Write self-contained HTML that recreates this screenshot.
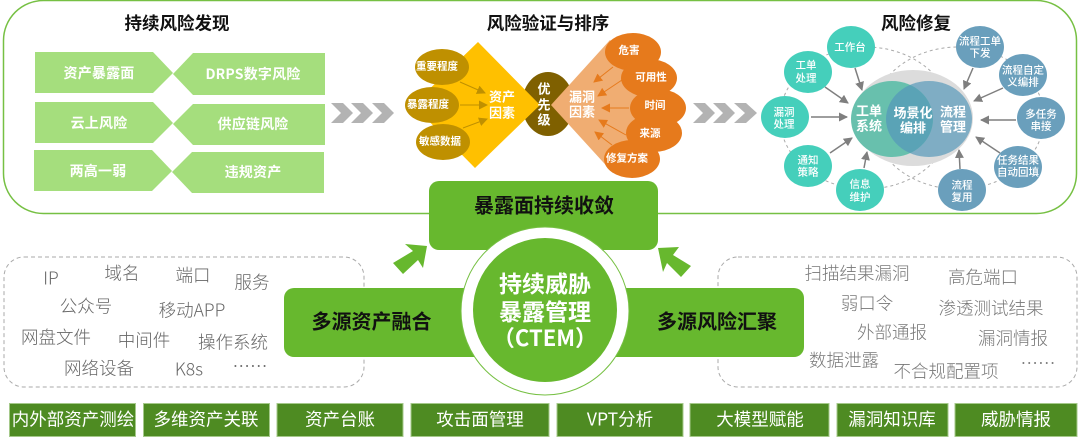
<!DOCTYPE html>
<html><head><meta charset="utf-8"><style>
html,body{margin:0;padding:0;background:#fff;width:1080px;height:441px;overflow:hidden}
svg{display:block}
text{font-family:"Liberation Sans","Noto Sans CJK SC",sans-serif;text-anchor:middle;dominant-baseline:central}
.cj,.cj text{font-family:"Noto Sans CJK SC","Liberation Sans",sans-serif}
.t{font-size:17.5px;font-weight:700;fill:#111}
.g{font-size:14px;font-weight:700;fill:#fff;letter-spacing:.2px}
.f{font-size:13px;font-weight:700;fill:#fff}
.e{font-size:10.5px;font-weight:700;fill:#fff}
.c{font-size:13px;font-weight:700;fill:#fff}
.s{font-size:10.5px;font-weight:500;fill:#fff}
.b{font-size:20px;font-weight:700;fill:#111}
.l{font-size:17.5px;font-weight:300;fill:#666}
.r{font-size:17.5px;font-weight:300;fill:#777}
.w{font-size:17.5px;font-weight:400;fill:#fff}
</style></head><body>
<svg class="cj" width="1080" height="441" viewBox="0 0 1080 441" xmlns="http://www.w3.org/2000/svg">
<defs>
<marker id="ag" markerUnits="userSpaceOnUse" markerWidth="10" markerHeight="10" refX="8" refY="4.5" orient="auto"><path d="M0 0L9 4.5L0 9Z" fill="#7f7f7f"/></marker>
<marker id="ao" markerUnits="userSpaceOnUse" markerWidth="10" markerHeight="10" refX="8" refY="4.5" orient="auto"><path d="M0 0L9 4.5L0 9Z" fill="#e67a1c"/></marker>
<marker id="ay" markerUnits="userSpaceOnUse" markerWidth="10" markerHeight="10" refX="8" refY="4.5" orient="auto"><path d="M0 0L9 4.5L0 9Z" fill="#bf9000"/></marker>
</defs>
<rect x="3.5" y="0.5" width="1073" height="213" rx="40" fill="#fff" stroke="#76c043" stroke-width="1.5"/>

<!-- left section -->
<text class="t" x="177" y="23">持续风险发现</text>
<g fill="#a5de7d">
<polygon points="35,52 153,52 173,73 153,93 35,93"/>
<polygon points="173,74 193,53 325,53 325,95 193,95"/>
<polygon points="35,102 153,102 173,123 153,143 35,143"/>
<polygon points="173,124 193,104 325,104 325,145 193,145"/>
<polygon points="34,150 152,150 172,171 152,191 34,191"/>
<polygon points="172,172 192,152 324,152 324,193 192,193"/>
</g>
<text class="g" x="99" y="73">资产暴露面</text>
<text class="g" x="253" y="74">DRPS数字风险</text>
<text class="g" x="99" y="123">云上风险</text>
<text class="g" x="253" y="124">供应链风险</text>
<text class="g" x="98" y="171">两高一弱</text>
<text class="g" x="253" y="172">违规资产</text>

<!-- chevrons -->
<g fill="#b3b3b3">
<polygon points="331,103 343,103 353,113 343,123 331,123 341,113"/>
<polygon points="351,103 363,103 373,113 363,123 351,123 361,113"/>
<polygon points="372,103 384,103 394,113 384,123 372,123 382,113"/>
<polygon points="693,103 705,103 715,113 705,123 693,123 703,113"/>
<polygon points="713,103 725,103 735,113 725,123 713,123 723,113"/>
<polygon points="734,103 746,103 757,113 746,123 734,123 745,113"/>
</g>

<!-- middle section -->
<text class="t" x="548" y="23">风险验证与排序</text>
<ellipse cx="548" cy="104" rx="26" ry="32" fill="#7f6000"/>
<polygon points="478,42 540,105 475,168 413,105" fill="#ffc000"/>
<polygon points="551,105 610,40 680,105 613,173" fill="#f0ad72"/>
<ellipse cx="442" cy="67" rx="27" ry="18" fill="#bf9000"/>
<ellipse cx="432" cy="105" rx="27" ry="18" fill="#bf9000"/>
<ellipse cx="443" cy="142" rx="27" ry="18" fill="#bf9000"/>
<g fill="#e67a1c">
<ellipse cx="633" cy="52" rx="28" ry="19"/>
<ellipse cx="649" cy="78" rx="28" ry="19"/>
<ellipse cx="658" cy="108" rx="28" ry="19"/>
<ellipse cx="654" cy="133" rx="28" ry="19"/>
<ellipse cx="632" cy="159" rx="28" ry="19"/>
</g>
<g stroke="#bf9000" stroke-width="1" marker-end="url(#ay)">
<line x1="460" y1="82" x2="485" y2="93"/>
<line x1="460" y1="105" x2="487" y2="105"/>
<line x1="463" y1="128" x2="487" y2="119"/>
</g>
<g stroke="#e67a1c" stroke-width="1" marker-end="url(#ao)">
<line x1="613" y1="67" x2="594" y2="82"/>
<line x1="622" y1="80" x2="598" y2="96"/>
<line x1="629" y1="108" x2="602" y2="108"/>
<line x1="626" y1="135" x2="599" y2="120"/>
<line x1="612" y1="145" x2="595" y2="132"/>
</g>
<text class="e" x="437" y="66">重要程度</text>
<text class="e" x="428" y="104">暴露程度</text>
<text class="e" x="440" y="141">敏感数据</text>
<text class="e" x="629" y="50">危害</text>
<text class="e" x="651" y="77">可用性</text>
<text class="e" x="655" y="105">时间</text>
<text class="e" x="650" y="133">来源</text>
<text class="e" x="627" y="158">修复方案</text>
<text class="f" x="502" y="96">资产</text>
<text class="f" x="502" y="112">因素</text>
<text class="f" x="544" y="88">优</text>
<text class="f" x="544" y="104">先</text>
<text class="f" x="544" y="119">级</text>
<text class="f" x="582" y="96">漏洞</text>
<text class="f" x="582" y="111">因素</text>

<!-- right section -->
<text class="t" x="916" y="23">风险修复</text>
<g fill="none" stroke="#aaa" stroke-width="1" stroke-dasharray="3 3">
<ellipse cx="866" cy="118" rx="86" ry="71"/>
<ellipse cx="958" cy="118" rx="86" ry="71"/>
</g>
<ellipse cx="913" cy="118" rx="60" ry="48" fill="#dcdcdc"/>
<ellipse cx="929" cy="119" rx="43" ry="38" fill="#7fadc4"/>
<ellipse cx="892" cy="119" rx="41" ry="38" fill="#68c0ad"/>
<clipPath id="ov"><ellipse cx="929" cy="119" rx="43" ry="38"/></clipPath>
<ellipse cx="892" cy="119" rx="41" ry="38" fill="#5aa3b6" clip-path="url(#ov)"/>
<g fill="#45cfbb">
<ellipse cx="851" cy="47" rx="24" ry="21"/>
<ellipse cx="808" cy="72" rx="24" ry="21"/>
<ellipse cx="785" cy="117" rx="24" ry="21"/>
<ellipse cx="808" cy="166" rx="24" ry="21"/>
<ellipse cx="860" cy="190" rx="24" ry="21"/>
</g>
<g fill="#6a9fbc">
<ellipse cx="980" cy="47" rx="24" ry="21"/>
<ellipse cx="1023" cy="75" rx="24" ry="21"/>
<ellipse cx="1041" cy="118" rx="24" ry="21"/>
<ellipse cx="1018" cy="167" rx="24" ry="21"/>
<ellipse cx="962" cy="190" rx="24" ry="21"/>
</g>
<g stroke="#7f7f7f" stroke-width="1.5" marker-end="url(#ag)">
<line x1="855" y1="68" x2="862" y2="90"/>
<line x1="825" y1="87" x2="848" y2="103"/>
<line x1="811" y1="117" x2="847" y2="117"/>
<line x1="830" y1="153" x2="852" y2="138"/>
<line x1="864" y1="168" x2="867" y2="152"/>
<line x1="973" y1="68" x2="964" y2="89"/>
<line x1="1003" y1="88" x2="974" y2="101"/>
<line x1="1016" y1="120" x2="981" y2="120"/>
<line x1="1000" y1="153" x2="976" y2="137"/>
<line x1="960" y1="169" x2="959" y2="150"/>
</g>
<text class="c" x="869" y="110">工单</text><text class="c" x="869" y="125">系统</text>
<text class="c" x="913" y="112">场景化</text><text class="c" x="913" y="127">编排</text>
<text class="c" x="953" y="111">流程</text><text class="c" x="953" y="126">管理</text>
<text class="s" x="850" y="47">工作台</text>
<text class="s" x="806" y="65">工单</text><text class="s" x="806" y="78">处理</text>
<text class="s" x="784" y="112">漏洞</text><text class="s" x="784" y="124">处理</text>
<text class="s" x="808" y="160">通知</text><text class="s" x="808" y="172">策略</text>
<text class="s" x="860" y="184">信息</text><text class="s" x="860" y="197">维护</text>
<text class="s" x="980" y="41">流程工单</text><text class="s" x="980" y="53">下发</text>
<text class="s" x="1023" y="70">流程自定</text><text class="s" x="1023" y="82">义编排</text>
<text class="s" x="1041" y="114">多任务</text><text class="s" x="1041" y="126">串接</text>
<text class="s" x="1018" y="160">任务结果</text><text class="s" x="1018" y="172">自动回填</text>
<text class="s" x="962" y="185">流程</text><text class="s" x="962" y="197">复用</text>

<!-- dashed boxes -->
<rect x="4" y="257" width="360" height="130" rx="20" fill="none" stroke="#aaa" stroke-width="1" stroke-dasharray="4 3"/>
<rect x="718" y="257" width="359" height="130" rx="20" fill="none" stroke="#aaa" stroke-width="1" stroke-dasharray="4 3"/>
<text class="l" x="51" y="278">IP</text>
<text class="l" x="122" y="273">域名</text>
<text class="l" x="193" y="275">端口</text>
<text class="l" x="252" y="282">服务</text>
<text class="l" x="86" y="306">公众号</text>
<text class="l" x="192" y="310">移动APP</text>
<text class="l" x="56" y="337">网盘文件</text>
<text class="l" x="144" y="340">中间件</text>
<text class="l" x="233" y="342">操作系统</text>
<text class="l" x="99" y="368">网络设备</text>
<text class="l" x="189" y="369">K8s</text>
<text class="l" x="250" y="366">……</text>
<text class="r" x="857" y="273">扫描结果漏洞</text>
<text class="r" x="983" y="277">高危端口</text>
<text class="r" x="867" y="303">弱口令</text>
<text class="r" x="991" y="308">渗透测试结果</text>
<text class="r" x="892" y="332">外部通报</text>
<text class="r" x="1013" y="338">漏洞情报</text>
<text class="r" x="844" y="360">数据泄露</text>
<text class="r" x="946" y="371">不合规配置项</text>
<text class="r" x="1038" y="363">……</text>

<!-- center -->
<rect x="429" y="181" width="229" height="69" rx="10" fill="#67b82e"/>
<rect x="284" y="288" width="200" height="69" rx="10" fill="#67b82e"/>
<rect x="604" y="288" width="200" height="69" rx="10" fill="#67b82e"/>
<polygon points="393,263 413,251 405,244 427,246 423,268 418,260 403,274" fill="#67b82e"/>
<polygon points="658,248 679,247 673,255 691,266 681,277 667,263 663,272" fill="#67b82e"/>
<circle cx="545" cy="311" r="84" fill="#fff" stroke="#76c043" stroke-width="1"/>
<circle cx="545" cy="310" r="72" fill="#67b82e"/>
<text class="b" x="544" y="204">暴露面持续收敛</text>
<text class="b" x="371.500" y="320">多源资产融合</text>
<text class="b" x="717" y="320">多源风险汇聚</text>
<text x="545" y="282" style="font-size:23px;font-weight:700;fill:#fff">持续威胁</text>
<text x="545" y="310" style="font-size:23px;font-weight:700;fill:#fff">暴露管理</text>
<text x="545" y="337" style="font-size:22px;font-weight:700;fill:#fff">（CTEM）</text>

<!-- bottom bars -->
<g fill="#4e8b22" stroke="#a5c98a" stroke-width="1">
<rect x="9.5" y="403.5" width="126" height="33"/>
<rect x="143.5" y="403.5" width="126" height="33"/>
<rect x="277" y="403.5" width="126" height="33"/>
<rect x="411" y="403.5" width="138" height="33"/>
<rect x="557" y="403.5" width="126" height="33"/>
<rect x="690" y="403.5" width="139" height="33"/>
<rect x="837" y="403.5" width="111" height="33"/>
<rect x="955" y="403.5" width="122" height="33"/>
</g>
<text class="w" x="73" y="419">内外部资产测绘</text>
<text class="w" x="206" y="419">多维资产关联</text>
<text class="w" x="340" y="419">资产台账</text>
<text class="w" x="480" y="419">攻击面管理</text>
<text class="w" x="620" y="419">VPT分析</text>
<text class="w" x="760" y="419">大模型赋能</text>
<text class="w" x="892" y="419">漏洞知识库</text>
<text class="w" x="1016" y="419">威胁情报</text>
</svg>
</body></html>
